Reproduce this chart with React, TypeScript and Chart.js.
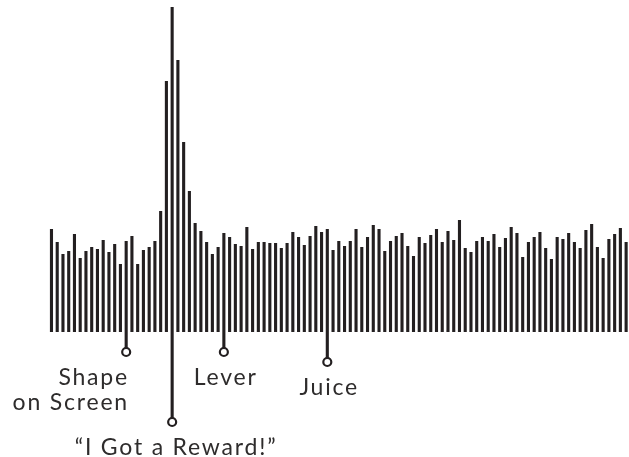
import React, { useEffect, useRef } from "react";
import { Chart, registerables } from "chart.js";

Chart.register(...registerables);

// Firing rate per time bin (bar height)
const rates = [
  103, 90, 78, 81, 98, 74, 81, 85, 83, 92,
  80, 88, 68, 91, 96, 68, 82, 85, 91, 121,
  251, 325, 272, 190, 141, 109, 101, 90, 78, 85,
  99, 95, 88, 86, 105, 83, 90, 90, 89, 89,
  84, 89, 100, 95, 87, 96, 106, 100, 103, 82,
  91, 86, 91, 103, 85, 95, 107, 103, 81, 91,
  96, 99, 86, 76, 95, 89, 97, 103, 90, 101,
  92, 112, 84, 80, 91, 95, 91, 98, 85, 94,
  105, 99, 75, 90, 95, 100, 84, 73, 95, 93,
  99, 90, 84, 102, 108, 85, 74, 93, 98, 104,
  90,
];
const bins = rates.map((_, i) => String(i + 1));

// Event markers: bin number, stem depth below the axis, label lines
const markerBins = [14, 22, 31, 49];
const markerDepths = [20, 90, 20, 30];
const markerLabels = [["Shape", "on Screen"], ["\u201CI Got a Reward!\u201D"], ["Lever"], ["Juice"]];

const INK = "#231f20";

const labelPlugin = {
  id: "markerLabels",
  afterDatasetsDraw(chart: any) {
    const ctx = chart.ctx;
    const xs = chart.scales.x;
    const ys = chart.scales.y;
    const spacing = 1.8;
    // per-marker layout: alignment, x nudge, baseline offsets from circle centre
    const layout = [
      { align: "right", dx: 1, dy: [33, 58] },
      { align: "center", dx: 3, dy: [33] },
      { align: "center", dx: 1, dy: [33] },
      { align: "center", dx: 1, dy: [33] },
    ];
    ctx.save();
    ctx.fillStyle = "#2e2c2c";
    ctx.font = "400 23px Lato";
    (ctx as any).letterSpacing = spacing + "px";
    ctx.textBaseline = "alphabetic";
    ctx.textAlign = "left";
    markerBins.forEach((bin, k) => {
      const cx = xs.getPixelForValue(bin - 1);
      const cy = ys.getPixelForValue(-markerDepths[k]);
      const l = layout[k];
      markerLabels[k].forEach((txt, j) => {
        const w = ctx.measureText(txt).width - spacing;
        let x = cx + l.dx;
        if (l.align === "right") x -= w;
        else if (l.align === "center") x -= w / 2;
        ctx.fillText(txt, x, cy + l.dy[j]);
      });
    });
    ctx.restore();
  },
};

export default function App() {
  const ref = useRef<HTMLCanvasElement>(null);
  useEffect(() => {
    if (!ref.current) return;
    const stems = bins.map((_, i) => {
      const k = markerBins.indexOf(i + 1);
      return k >= 0 ? [-markerDepths[k], 0] : null;
    });
    const dots = bins.map((_, i) => {
      const k = markerBins.indexOf(i + 1);
      return k >= 0 ? -markerDepths[k] : null;
    });
    const chart = new Chart(ref.current, {
      type: "bar",
      data: {
        labels: bins,
        datasets: [
          {
            type: "line",
            data: dots as any,
            showLine: false,
            pointRadius: 4,
            pointBorderWidth: 2.2,
            pointBackgroundColor: "#ffffff",
            pointBorderColor: INK,
            order: 0,
          } as any,
          {
            data: rates,
            backgroundColor: INK,
            borderWidth: 0,
            categoryPercentage: 1,
            barPercentage: 0.54,
            grouped: false,
            order: 1,
          } as any,
          {
            data: stems as any,
            backgroundColor: INK,
            borderWidth: 0,
            categoryPercentage: 1,
            barPercentage: 0.54,
            grouped: false,
            order: 2,
          } as any,
        ],
      },
      options: {
        responsive: false,
        animation: false,
        events: [],
        layout: { autoPadding: false, padding: { left: 48.6, right: 0, top: 0, bottom: 0 } },
        plugins: { legend: { display: false }, tooltip: { enabled: false } },
        scales: {
          x: { display: false, offset: true },
          y: { display: false, min: -125, max: 332 },
        },
      },
      plugins: [labelPlugin],
    });
    return () => chart.destroy();
  }, []);
  return (
    <div style={{ position: "fixed", left: 0, top: 0, width: 629, height: 457, background: "#fff" }}>
      <canvas ref={ref} width={629} height={457} style={{ width: 629, height: 457, display: "block" }} />
    </div>
  );
}
